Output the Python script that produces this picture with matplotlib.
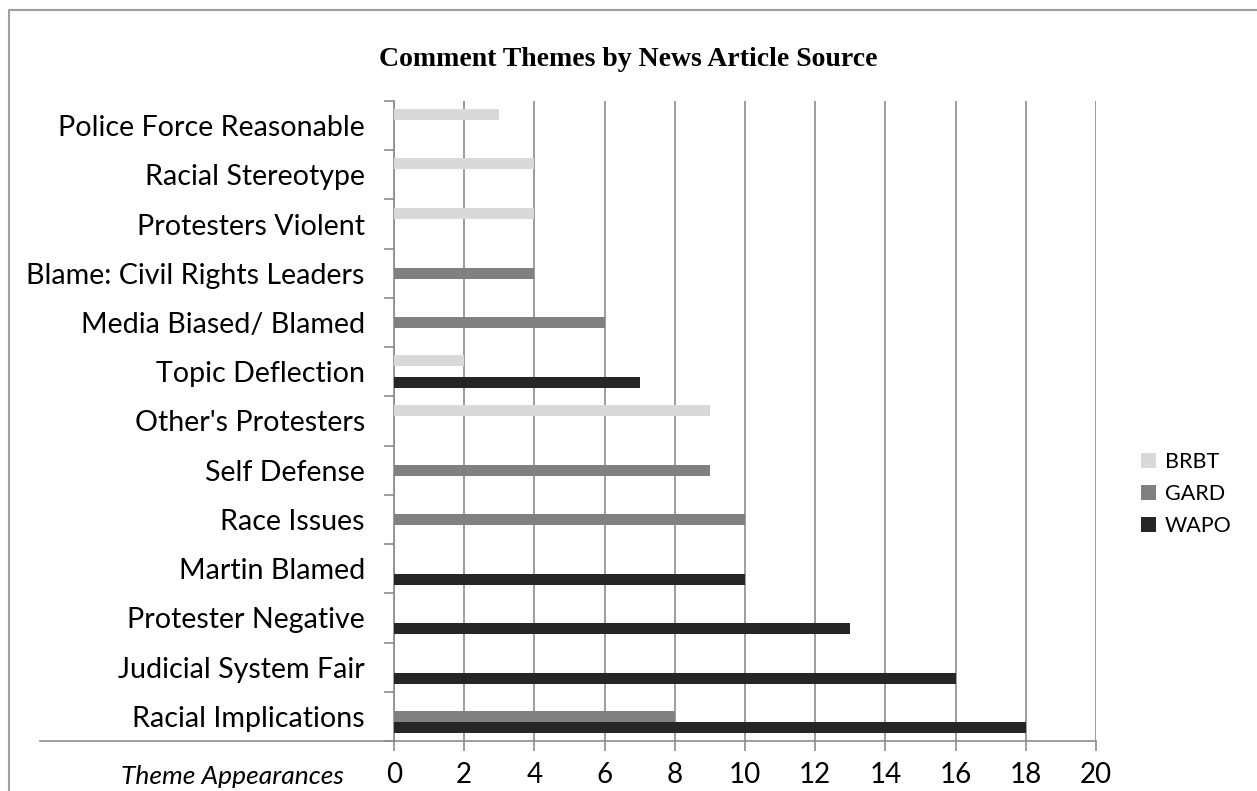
import numpy as np
import matplotlib.pyplot as plt
from matplotlib.lines import Line2D

# categories listed bottom to top
themes = ["Racial Implications", "Judicial System Fair", "Protester Negative",
          "Martin Blamed", "Race Issues", "Self Defense", "Other's Protesters",
          "Topic Deflection", "Media Biased/ Blamed", "Blame: Civil Rights Leaders",
          "Protesters Violent", "Racial Stereotype", "Police Force Reasonable"]
wapo = [18, 16, 13, 10, 0, 0, 0, 7, 0, 0, 0, 0, 0]
gard = [8, 0, 0, 0, 10, 9, 0, 0, 6, 4, 0, 0, 0]
brbt = [0, 0, 0, 0, 0, 0, 9, 2, 0, 0, 4, 4, 3]
x_ticks = list(range(0, 21, 2))

W, H = 1257, 791
fig = plt.figure(figsize=(W / 100, H / 100), dpi=100)
ax = fig.add_axes([394 / W, 1 - 741 / H, (1096 - 394) / W, (741 - 101) / H])

grid_c = "#8c8c8c"
label_font = "Lato"

y = np.arange(len(themes))
bh = 0.223
ax.barh(y - bh, wapo, height=bh, color="#262626", label="WAPO", zorder=3)
ax.barh(y, gard, height=bh, color="#808080", label="GARD", zorder=3)
ax.barh(y + bh, brbt, height=bh, color="#d9d9d9", label="BRBT", zorder=3)

ax.set_xlim(0, 20)
ax.set_ylim(-0.5, len(themes) - 0.5)
ax.set_xticks(x_ticks)
ax.set_xticklabels([str(v) for v in x_ticks], fontsize=20, family=label_font)
ax.set_yticks(y)
ax.set_yticklabels(themes, fontsize=20.6, family=label_font)
ax.set_yticks(np.arange(len(themes) + 1) - 0.5, minor=True)
ax.tick_params(axis="y", which="major", length=0, pad=21)
ax.tick_params(axis="y", which="minor", length=7, width=1.2, color=grid_c)
ax.tick_params(axis="x", length=7, width=1.2, color=grid_c, pad=8)

ax.grid(axis="x", color=grid_c, linewidth=1.2, zorder=0)
for s in ["top", "right"]:
    ax.spines[s].set_visible(False)
for s in ["left", "bottom"]:
    ax.spines[s].set_color(grid_c)
    ax.spines[s].set_linewidth(1.2)

# extended category-axis line under the labels
fig.add_artist(Line2D([40 / W, 394 / W], [1 - 741 / H, 1 - 741 / H],
                      color=grid_c, linewidth=1.2))
fig.text(232 / W, 1 - 777 / H, "Theme Appearances", ha="center", va="center",
         fontsize=19, style="italic", family=label_font)

fig.text(628 / W, 1 - 59 / H, "Comment Themes by News Article Source",
         ha="center", va="center", fontsize=20, fontweight="bold",
         family="Liberation Serif")

# outer chart border (top and left visible)
fig.add_artist(Line2D([9 / W, 9 / W, 1256 / W], [0, 1 - 10 / H, 1 - 10 / H],
                      color="#a0a0a0", linewidth=1.5))

handles, labels = ax.get_legend_handles_labels()
ax.legend(handles[::-1], labels[::-1], loc="center left",
          bbox_to_anchor=(1122 / W, 1 - 494 / H), bbox_transform=fig.transFigure,
          frameon=False, handlelength=0.7, handleheight=0.7, handletextpad=0.4,
          labelspacing=0.55, prop={"family": label_font, "size": 15.5})

fig.savefig("out.png", dpi=100)
